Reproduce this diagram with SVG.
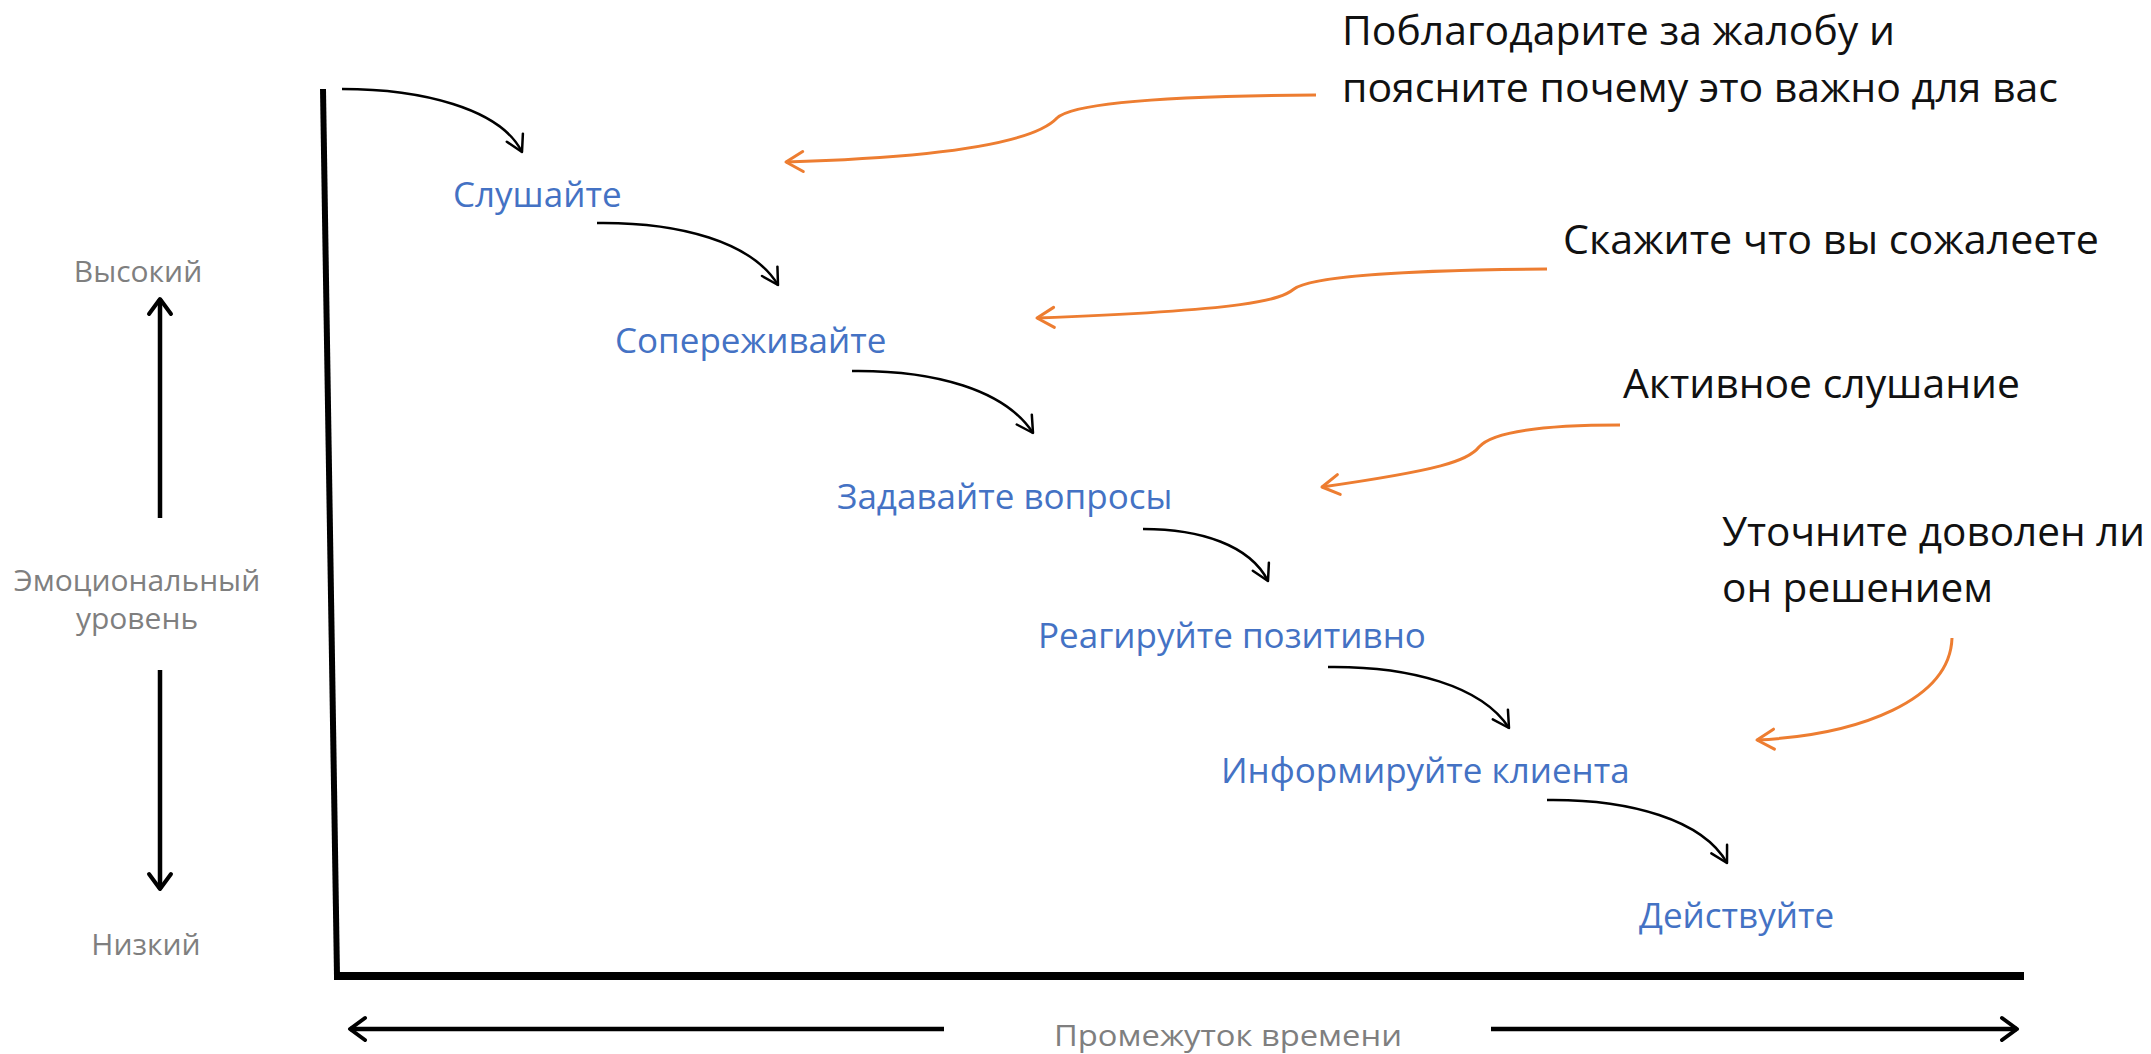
<svg xmlns="http://www.w3.org/2000/svg" width="2151" height="1054" viewBox="0 0 2151 1054">
  <style>
    text { font-family: "Open Sans", "Liberation Sans", sans-serif; }
    .step { font-size: 35px; fill: #4472C4; }
    .note { font-size: 41px; fill: #111111; }
    .lbl { font-size: 30px; fill: #7F7F7F; }
    .flow { fill: none; stroke: #000; stroke-width: 2.5; marker-end: url(#ahBlack); }
    .callout { fill: none; stroke: #ED7D31; stroke-width: 3; marker-end: url(#ahOrange); }
    .scale { fill: none; stroke: #000; stroke-width: 4.5; marker-end: url(#ahScale); }
  </style>
  <defs>
    <marker id="ahBlack" markerUnits="userSpaceOnUse" orient="auto" refX="0" refY="0" viewBox="-22 -14 26 28" markerWidth="26" markerHeight="28" overflow="visible">
      <path d="M-16,-9 L0,0 L-16,9" fill="none" stroke="#000" stroke-width="2.5" stroke-linecap="round" stroke-linejoin="round"/>
    </marker>
    <marker id="ahOrange" markerUnits="userSpaceOnUse" orient="auto" refX="0" refY="0" viewBox="-22 -14 26 28" markerWidth="26" markerHeight="28" overflow="visible">
      <path d="M-17,-10 L0,0 L-17,10" fill="none" stroke="#ED7D31" stroke-width="3" stroke-linecap="round" stroke-linejoin="round"/>
    </marker>
    <marker id="ahScale" markerUnits="userSpaceOnUse" orient="auto" refX="0" refY="0" viewBox="-22 -16 26 32" markerWidth="26" markerHeight="32" overflow="visible">
      <path d="M-15,-11 L0,0 L-15,11" fill="none" stroke="#000" stroke-width="4" stroke-linecap="round" stroke-linejoin="round"/>
    </marker>
  </defs>

  <rect x="0" y="0" width="2151" height="1054" fill="#ffffff"/>

  <!-- axes -->
  <g id="axes">
    <line x1="323" y1="89" x2="337" y2="976" stroke="#000" stroke-width="6"/>
    <line x1="334" y1="976" x2="2024" y2="976" stroke="#000" stroke-width="8"/>
  </g>

  <!-- scale labels -->
  <g id="emotion-scale">
    <text class="lbl" x="138" y="282" text-anchor="middle">Высокий</text>
    <text class="lbl" x="137" y="591" text-anchor="middle">Эмоциональный</text>
    <text class="lbl" x="137" y="629" text-anchor="middle">уровень</text>
    <text class="lbl" x="146" y="955" text-anchor="middle">Низкий</text>
  </g>
  <g id="time-scale">
    <text class="lbl" x="1054" y="1046" textLength="348" lengthAdjust="spacingAndGlyphs">Промежуток времени</text>
  </g>

  <!-- steps -->
  <g id="step-listen"><text class="step" x="453" y="207">Слушайте</text></g>
  <g id="step-empathize"><text class="step" x="615" y="353">Сопереживайте</text></g>
  <g id="step-ask"><text class="step" x="837" y="509">Задавайте вопросы</text></g>
  <g id="step-react"><text class="step" x="1038" y="648">Реагируйте позитивно</text></g>
  <g id="step-inform"><text class="step" x="1221" y="783">Информируйте клиента</text></g>
  <g id="step-act"><text class="step" x="1639" y="928">Действуйте</text></g>

  <!-- notes -->
  <g id="note-thank">
    <text class="note" x="1342" y="45" textLength="553" lengthAdjust="spacingAndGlyphs">Поблагодарите за жалобу и</text>
    <text class="note" x="1342" y="102" textLength="716" lengthAdjust="spacingAndGlyphs">поясните почему это важно для вас</text>
  </g>
  <g id="note-sorry"><text class="note" x="1563" y="254" textLength="536" lengthAdjust="spacingAndGlyphs">Скажите что вы сожалеете</text></g>
  <g id="note-active"><text class="note" x="1623" y="398" textLength="397" lengthAdjust="spacingAndGlyphs">Активное слушание</text></g>
  <g id="note-check">
    <text class="note" x="1722" y="546" textLength="423" lengthAdjust="spacingAndGlyphs">Уточните доволен ли</text>
    <text class="note" x="1722" y="602" textLength="271" lengthAdjust="spacingAndGlyphs">он решением</text>
  </g>

  <!-- connectors -->
  <g id="connectors">
    <path class="scale" d="M160,518 L160,299"/>
    <path class="scale" d="M160,670 L160,889"/>
    <path class="scale" d="M944,1029 L350,1029"/>
    <path class="scale" d="M1491,1029 L2017,1029"/>

    <path class="flow" d="M342,89 C420,89 500,108 522,152"/>
    <path class="flow" d="M597,223 C680,222 752,242 778,285"/>
    <path class="flow" d="M852,371 C935,370 1005,390 1033,433"/>
    <path class="flow" d="M1143,529 C1200,529 1250,545 1268,581"/>
    <path class="flow" d="M1328,667 C1410,666 1482,686 1509,728"/>
    <path class="flow" d="M1547,800 C1630,799 1703,820 1727,863"/>

    <path class="callout" d="M1316,95 C1160,96 1072,104 1057,118 C1042,134 990,156 786,162"/>
    <path class="callout" d="M1547,269 C1400,270 1310,277 1294,289 C1280,300 1250,310 1037,318"/>
    <path class="callout" d="M1620,425 C1540,425 1492,432 1479,447 C1468,461 1440,470 1322,487"/>
    <path class="callout" d="M1952,638 C1950,700 1860,735 1757,740"/>
  </g>
</svg>
